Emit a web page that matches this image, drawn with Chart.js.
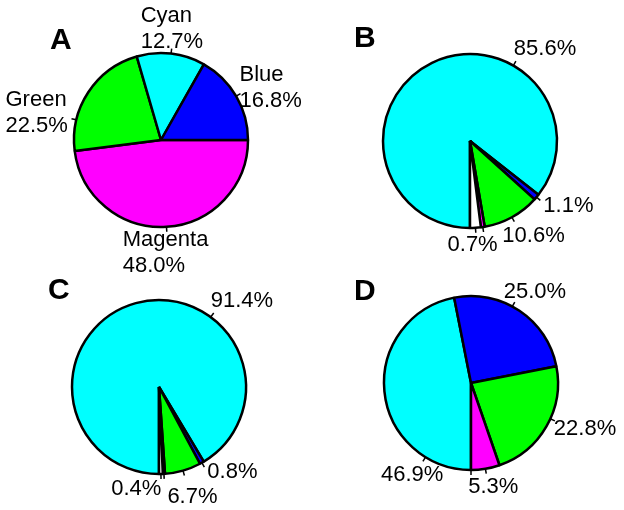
<!DOCTYPE html>
<html lang="en">
<head>
<meta charset="UTF-8">
<title>Pie panels A-D</title>
<script src="https://cdn.jsdelivr.net/npm/chart.js"></script>
<style>
  body { margin: 0; background: #fff; }
  #wrap { position: relative; width: 624px; height: 510px; }
  #wrap canvas { position: absolute; left: 0; top: 0; pointer-events: none; }
</style>
</head>
<body>
<div id="wrap">
  <canvas id="pieA" width="624" height="510"></canvas>
  <canvas id="pieB" width="624" height="510"></canvas>
  <canvas id="pieC" width="624" height="510"></canvas>
  <canvas id="pieD" width="624" height="510"></canvas>
</div>

<script>
// data
const catsA = ['Magenta', 'Green', 'Cyan', 'Blue'];
const valuesA = [48.0, 22.5, 12.7, 16.8];

const catsBCD = ['Cyan', 'Blue', 'Green', 'Magenta', 'Other'];
const valuesB = [85.6, 1.1, 10.6, 0.7, 2.0];
const valuesC = [91.4, 0.8, 6.7, 0.4, 0.7];
const valuesD = [46.9, 25.0, 22.8, 5.3, 0];

const colorOf = { Cyan: '#00ffff', Blue: '#0000ff', Green: '#00ff00', Magenta: '#ff00ff', Other: '#ffffff' };

// label layout: leader angle (deg, null = middle of slice), text offset from leader tip
const spotsA = [
  { angle: null, dx: -44, dy: 14 },
  { angle: 193.4, dx: -66, dy: -13 },
  { angle: null, dx: -31, dy: -27 },
  { angle: null, dx: -1, dy: -13 }
];
const spotsB = [
  { angle: 299.9, dx: -2, dy: -6 },
  { angle: null, dx: 3, dy: 12 },
  { angle: null, dx: -12, dy: 20 },
  { angle: null, dx: -36, dy: 19 },
  null
];
const spotsC = [
  { angle: 306.5, dx: -3, dy: -6 },
  { angle: null, dx: 3, dy: 11 },
  { angle: null, dx: -17, dy: 28 },
  { angle: null, dx: -53, dy: 16 },
  null
];
const spotsD = [
  { angle: 121.5, dx: -42, dy: 20 },
  { angle: 298.4, dx: -11, dy: -4 },
  { angle: 24.3, dx: -1, dy: 14 },
  { angle: null, dx: -18, dy: 19 },
  null
];

const pct = v => v.toFixed(1) + '%';

// draws leader ticks, slice labels and the panel letter
const pieLabels = {
  id: 'pieLabels',
  afterDraw(chart, args, opts) {
    const ctx = chart.ctx;
    const arcs = chart.getDatasetMeta(0).data;
    ctx.save();
    ctx.fillStyle = '#000';
    ctx.strokeStyle = '#000';
    ctx.lineWidth = 1.5;
    ctx.textAlign = 'left';
    ctx.textBaseline = 'alphabetic';
    ctx.font = '22px "Liberation Sans", Arial, sans-serif';
    arcs.forEach((arc, i) => {
      const spot = opts.spots[i];
      if (!spot) return;
      const p = arc.getProps(['x', 'y', 'startAngle', 'endAngle', 'outerRadius'], true);
      const a = spot.angle != null ? spot.angle * Math.PI / 180 : (p.startAngle + p.endAngle) / 2;
      const r0 = p.outerRadius, r1 = p.outerRadius + 5;
      const tx = p.x + Math.cos(a) * r1, ty = p.y + Math.sin(a) * r1;
      ctx.beginPath();
      ctx.moveTo(p.x + Math.cos(a) * r0, p.y + Math.sin(a) * r0);
      ctx.lineTo(tx, ty);
      ctx.stroke();
      opts.lines[i].forEach((t, k) => ctx.fillText(t, tx + spot.dx, ty + spot.dy + k * 26));
    });
    ctx.font = 'bold 30px "Liberation Sans", Arial, sans-serif';
    ctx.fillText(opts.letter, opts.letterX, opts.letterY);
    ctx.restore();
  }
};

// padding that puts the pie centre at (cx, cy) on the full-size canvas
function padFor(cx, cy) {
  const W = 624, H = 510;
  return {
    left: cx > W / 2 ? 2 * cx - W : 0,
    right: cx > W / 2 ? 0 : W - 2 * cx,
    top: cy > H / 2 ? 2 * cy - H : 0,
    bottom: cy > H / 2 ? 0 : H - 2 * cy
  };
}

function makePie(id, cats, values, spots, lines, letter, lx, ly, cx, cy, rotation) {
  new Chart(document.getElementById(id), {
    type: 'pie',
    data: {
      labels: cats,
      datasets: [{
        data: values,
        backgroundColor: cats.map(c => colorOf[c]),
        borderColor: '#000',
        borderWidth: 2.5
      }]
    },
    options: {
      responsive: false,
      animation: false,
      events: [],
      rotation: rotation,
      radius: 87,
      layout: { padding: padFor(cx, cy) },
      plugins: {
        legend: { display: false },
        tooltip: { enabled: false },
        pieLabels: { spots: spots, lines: lines, letter: letter, letterX: lx, letterY: ly }
      }
    },
    plugins: [pieLabels]
  });
}

makePie('pieA', catsA, valuesA, spotsA, catsA.map((c, i) => [c, pct(valuesA[i])]), 'A', 50, 49, 161, 140, 90);
makePie('pieB', catsBCD, valuesB, spotsB, valuesB.map(v => [pct(v)]), 'B', 354, 47, 470, 141, 180);
makePie('pieC', catsBCD, valuesC, spotsC, valuesC.map(v => [pct(v)]), 'C', 48, 299, 159, 387, 180);
makePie('pieD', catsBCD, valuesD, spotsD, valuesD.map(v => [pct(v)]), 'D', 354, 300, 471, 383, 180);
</script>
</body>
</html>
